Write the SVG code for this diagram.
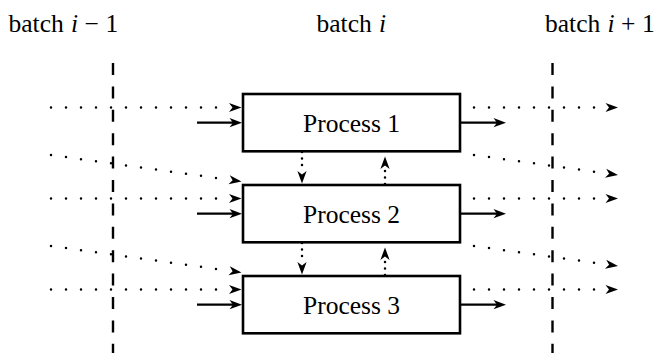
<svg xmlns="http://www.w3.org/2000/svg" xmlns:xlink="http://www.w3.org/1999/xlink" width="656" height="353" viewBox="0 0 656 353">
  <style>
    .lbl { font-family: "Liberation Serif", "Times New Roman", serif; font-size: 25.5px; fill: #000; }
    .it { font-style: italic; }
    .box { fill: #fff; stroke: #000; stroke-width: 2.6; }
    .solid { stroke: #000; stroke-width: 2.4; fill: none; }
    .dot { stroke: #000; stroke-width: 2.5; stroke-linecap: round; stroke-dasharray: 0 15; fill: none; }
    .ddot { stroke: #000; stroke-width: 2.5; stroke-linecap: round; stroke-dasharray: 0 15.144; fill: none; }
    .vdot { stroke: #000; stroke-width: 2.5; stroke-linecap: round; stroke-dasharray: 0 6.5; fill: none; }
    .dash { stroke: #000; stroke-width: 2.4; stroke-dasharray: 12 11.4; fill: none; }
  </style>
  <defs>
    <path id="ah" d="M0,0 L-12.5,-4.6 L-9,0 L-12.5,4.6 Z" fill="#000"/>
  </defs>
  <rect width="656" height="353" fill="#fff"/>

  <g id="batch-labels">
    <text class="lbl" x="8.5" y="32">batch<tspan class="it" x="71">i</tspan><tspan x="84.5">−</tspan><tspan x="105.5">1</tspan></text>
    <text class="lbl" x="316.5" y="32">batch<tspan class="it" x="379">i</tspan></text>
    <text class="lbl" x="545" y="32">batch<tspan class="it" x="607.5">i</tspan><tspan x="621">+</tspan><tspan x="642">1</tspan></text>
  </g>

  <g id="batch-boundaries">
    <line class="dash" x1="113" y1="63" x2="113" y2="353"/>
    <line class="dash" x1="552.5" y1="63" x2="552.5" y2="353"/>
  </g>

  <g id="process1">
    <rect class="box" x="243" y="94" width="217" height="57.3"/>
    <text class="lbl" x="351.5" y="131.5" text-anchor="middle">Process 1</text>
  </g>
  <g id="process2">
    <rect class="box" x="243" y="185" width="217" height="57.3"/>
    <text class="lbl" x="351.5" y="222.5" text-anchor="middle">Process 2</text>
  </g>
  <g id="process3">
    <rect class="box" x="243" y="276" width="217" height="57.3"/>
    <text class="lbl" x="351.5" y="313.5" text-anchor="middle">Process 3</text>
  </g>

  <g id="connectors">
    <!-- left dotted inputs -->
    <line class="dot" x1="51" y1="107.5" x2="217" y2="107.5"/>
    <use href="#ah" transform="translate(241.5,107.5)"/>
    <line class="dot" x1="51" y1="198.5" x2="217" y2="198.5"/>
    <use href="#ah" transform="translate(241.5,198.5)"/>
    <line class="dot" x1="51" y1="289.5" x2="217" y2="289.5"/>
    <use href="#ah" transform="translate(241.5,289.5)"/>

    <!-- left diagonal dotted inputs -->
    <line class="ddot" x1="51" y1="155" x2="217" y2="178.08"/>
    <use href="#ah" transform="translate(241.5,181.5) rotate(7.91)"/>
    <line class="ddot" x1="51" y1="246" x2="217" y2="269.08"/>
    <use href="#ah" transform="translate(241.5,272.5) rotate(7.91)"/>

    <!-- left solid inputs -->
    <line class="solid" x1="197" y1="122.65" x2="236" y2="122.65"/>
    <use href="#ah" transform="translate(242,122.65)"/>
    <line class="solid" x1="197" y1="213.65" x2="236" y2="213.65"/>
    <use href="#ah" transform="translate(242,213.65)"/>
    <line class="solid" x1="197" y1="304.65" x2="236" y2="304.65"/>
    <use href="#ah" transform="translate(242,304.65)"/>

    <!-- right solid outputs -->
    <line class="solid" x1="460" y1="122.65" x2="500" y2="122.65"/>
    <use href="#ah" transform="translate(506,122.65)"/>
    <line class="solid" x1="460" y1="213.65" x2="500" y2="213.65"/>
    <use href="#ah" transform="translate(506,213.65)"/>
    <line class="solid" x1="460" y1="304.65" x2="500" y2="304.65"/>
    <use href="#ah" transform="translate(506,304.65)"/>

    <!-- right dotted outputs -->
    <line class="dot" x1="474" y1="107.5" x2="595" y2="107.5"/>
    <use href="#ah" transform="translate(618,107.5)"/>
    <line class="dot" x1="474" y1="198.5" x2="595" y2="198.5"/>
    <use href="#ah" transform="translate(618,198.5)"/>
    <line class="dot" x1="474" y1="289.5" x2="595" y2="289.5"/>
    <use href="#ah" transform="translate(618,289.5)"/>

    <!-- right diagonal dotted outputs -->
    <line class="ddot" x1="474" y1="155" x2="595" y2="171.82"/>
    <use href="#ah" transform="translate(618,175) rotate(7.91)"/>
    <line class="ddot" x1="474" y1="246" x2="595" y2="262.82"/>
    <use href="#ah" transform="translate(618,266) rotate(7.91)"/>

    <!-- vertical dotted exchanges between processes -->
    <line class="vdot" x1="302" y1="152" x2="302" y2="166"/>
    <use href="#ah" transform="translate(302,183.5) rotate(90)"/>
    <line class="vdot" x1="385" y1="184" x2="385" y2="170"/>
    <use href="#ah" transform="translate(385,156.5) rotate(-90)"/>

    <line class="vdot" x1="302" y1="243" x2="302" y2="257"/>
    <use href="#ah" transform="translate(302,274.5) rotate(90)"/>
    <line class="vdot" x1="385" y1="275" x2="385" y2="261"/>
    <use href="#ah" transform="translate(385,247.5) rotate(-90)"/>
  </g>
</svg>
